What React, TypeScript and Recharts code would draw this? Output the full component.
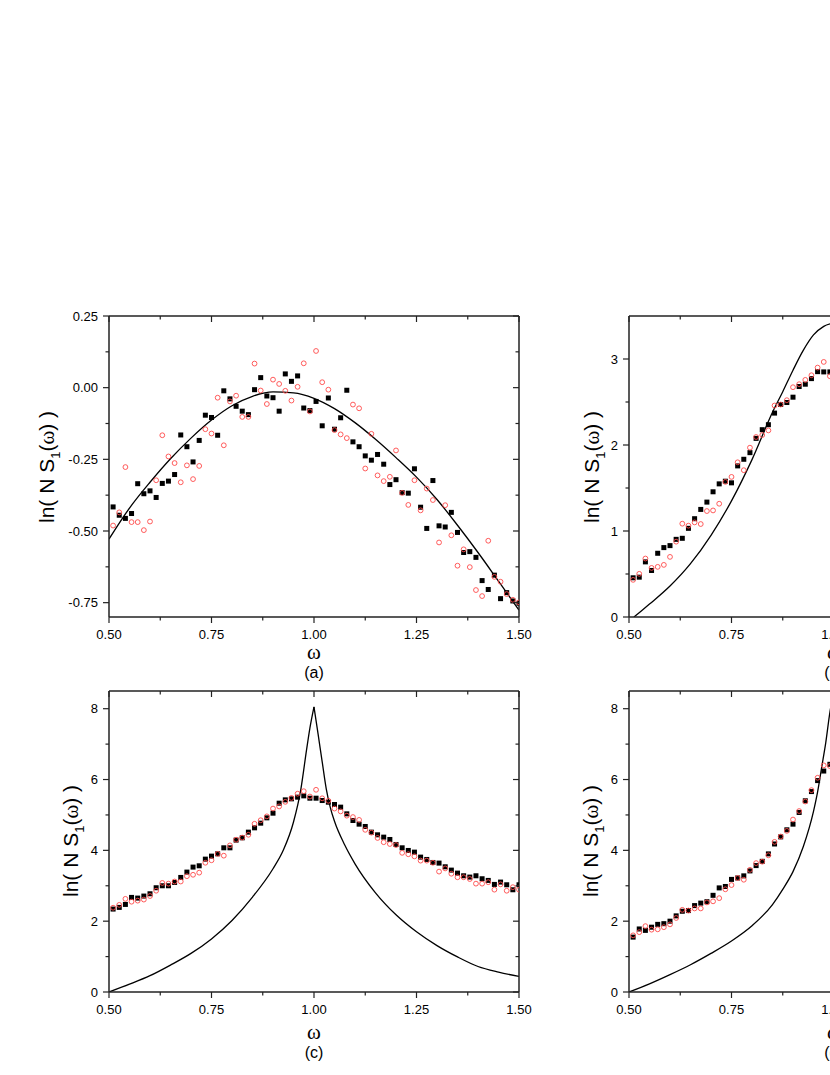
import React from 'react';
import { ComposedChart, XAxis, YAxis, Line, Scatter } from 'recharts';

// sample grid of the simulation points (ω)
const OMEGA = [
  0.51, 0.525, 0.54, 0.555, 0.57, 0.585, 0.6, 0.615, 0.63, 0.645,
  0.66, 0.675, 0.69, 0.705, 0.72, 0.735, 0.75, 0.765, 0.78, 0.795,
  0.81, 0.825, 0.84, 0.855, 0.87, 0.885, 0.9, 0.915, 0.93, 0.945,
  0.96, 0.975, 0.99, 1.005, 1.02, 1.035, 1.05, 1.065, 1.08, 1.095,
  1.11, 1.125, 1.14, 1.155, 1.17, 1.185, 1.2, 1.215, 1.23, 1.245,
  1.26, 1.275, 1.29, 1.305, 1.32, 1.335, 1.35, 1.365, 1.38, 1.395,
  1.41, 1.425, 1.44, 1.455, 1.47, 1.485, 1.5,
];

const X_TICKS = [0.5, 0.625, 0.75, 0.875, 1, 1.125, 1.25, 1.375, 1.5];
const X_MAJOR = [0.5, 0.75, 1, 1.25, 1.5];

// (a)
const SQ_A = [
  -0.416, -0.445, -0.456, -0.439, -0.335, -0.37, -0.36, -0.383, -0.334, -0.326,
  -0.303, -0.165, -0.206, -0.259, -0.184, -0.096, -0.104, -0.166, -0.011, -0.039,
  -0.065, -0.082, -0.094, -0.007, 0.035, -0.029, -0.035, -0.082, 0.048, 0.022,
  0.041, -0.071, -0.08, -0.048, -0.133, -0.036, -0.145, -0.105, -0.009, -0.189,
  -0.206, -0.238, -0.253, -0.233, -0.267, -0.338, -0.321, -0.366, -0.368, -0.283,
  -0.417, -0.491, -0.324, -0.482, -0.486, -0.435, -0.505, -0.575, -0.572, -0.592,
  -0.673, -0.704, -0.654, -0.736, -0.715, -0.744, -0.752,
];
const CI_A = [
  -0.481, -0.435, -0.277, -0.469, -0.469, -0.497, -0.467, -0.323, -0.166, -0.24,
  -0.263, -0.33, -0.271, -0.319, -0.273, -0.145, -0.16, -0.035, -0.201, -0.048,
  -0.028, -0.102, -0.102, 0.084, -0.01, -0.057, 0.028, 0.013, -0.011, -0.045,
  0.003, 0.085, -0.083, 0.128, 0.019, -0.007, -0.148, -0.163, -0.176, -0.059,
  -0.072, -0.282, -0.161, -0.306, -0.326, -0.311, -0.219, -0.367, -0.409, -0.323,
  -0.428, -0.352, -0.392, -0.54, -0.41, -0.515, -0.621, -0.564, -0.626, -0.706,
  -0.727, -0.534, -0.66, -0.677, -0.72, -0.74, -0.749,
];
const LINE_A_X = [0.5, 0.55, 0.6, 0.65, 0.7, 0.75, 0.8, 0.85, 0.9, 0.95, 1.0, 1.05, 1.1, 1.15, 1.2, 1.25, 1.3, 1.35, 1.4, 1.45, 1.5];
const LINE_A_Y = [-0.528, -0.42, -0.33, -0.248, -0.176, -0.113, -0.063, -0.03, -0.015, -0.018, -0.037, -0.073, -0.122, -0.18, -0.244, -0.312, -0.39, -0.48, -0.575, -0.675, -0.776];
const Y_TICKS_A = [-0.75, -0.625, -0.5, -0.375, -0.25, -0.125, 0, 0.125, 0.25];
const Y_MAJOR_A = [-0.75, -0.5, -0.25, 0, 0.25];

// (b)
const SQ_B = [
  0.456, 0.463, 0.641, 0.541, 0.741, 0.807, 0.83, 0.903, 0.915, 1.031,
  1.143, 1.251, 1.336, 1.456, 1.548, 1.579, 1.56, 1.757, 1.834, 1.911,
  2.077, 2.178, 2.236, 2.371, 2.471, 2.494, 2.556, 2.68, 2.707, 2.772,
  2.853, 2.85, 2.85,
];
const CI_B = [
  0.432, 0.502, 0.68, 0.571, 0.583, 0.606, 0.699, 0.876, 1.085, 1.062,
  1.1, 1.081, 1.232, 1.239, 1.317, 1.571, 1.629, 1.799, 1.707, 1.969,
  2.093, 2.116, 2.17, 2.459, 2.471, 2.521, 2.672, 2.707, 2.757, 2.811,
  2.9, 2.966, 2.8,
];
const LINE_B_X = [0.512, 0.53, 0.55, 0.6, 0.65, 0.7, 0.75, 0.8, 0.85, 0.875, 0.9, 0.925, 0.95, 0.975, 1.0];
const LINE_B_Y = [0, 0.07, 0.15, 0.36, 0.62, 0.95, 1.35, 1.83, 2.38, 2.62, 2.87, 3.1, 3.28, 3.38, 3.42];
const Y_TICKS_B = [0, 0.5, 1, 1.5, 2, 2.5, 3];
const Y_MAJOR_B = [0, 1, 2, 3];

// (c)
const SQ_C = [
  2.342, 2.389, 2.473, 2.671, 2.652, 2.709, 2.774, 2.944, 3.0, 3.0,
  3.094, 3.235, 3.386, 3.527, 3.564, 3.752, 3.837, 3.903, 4.072, 4.072,
  4.289, 4.354, 4.514, 4.636, 4.768, 4.918, 5.05, 5.332, 5.426, 5.455,
  5.502, 5.539, 5.473, 5.473, 5.407, 5.36, 5.295, 5.22, 5.031, 4.843,
  4.74, 4.674, 4.514, 4.439, 4.373, 4.307, 4.166, 4.072, 3.997, 3.95,
  3.809, 3.743, 3.658, 3.64, 3.536, 3.442, 3.357, 3.282, 3.245, 3.282,
  3.198, 3.151, 3.038, 3.104, 3.028, 2.887, 3.028,
];
const CI_C = [
  2.38, 2.46, 2.63, 2.55, 2.58, 2.61, 2.71, 2.86, 3.08, 3.06,
  3.12, 3.12, 3.27, 3.31, 3.37, 3.65, 3.72, 3.9, 3.85, 4.14,
  4.3, 4.36, 4.44, 4.75, 4.85, 4.96, 5.18, 5.24, 5.37, 5.48,
  5.6, 5.67, 5.52, 5.71, 5.47, 5.4, 5.18, 5.1, 4.98, 4.94,
  4.86, 4.58, 4.5, 4.35, 4.23, 4.18, 4.15, 3.93, 3.89, 3.83,
  3.71, 3.71, 3.65, 3.4, 3.49, 3.34, 3.24, 3.24, 3.19, 3.06,
  3.06, 3.1, 2.89, 3.04, 2.86, 2.96, 2.89,
];
const LINE_C_LX = [0.5, 0.55, 0.6, 0.65, 0.7, 0.75, 0.8, 0.85, 0.9, 0.925, 0.95, 0.968, 0.982, 0.99, 1.0];
const LINE_C_LY = [0, 0.22, 0.46, 0.76, 1.09, 1.5, 2.02, 2.68, 3.48, 4.0, 4.8, 5.73, 6.85, 7.45, 8.05];
const LINE_C_RX = [1.0, 1.01, 1.02, 1.03, 1.04, 1.05, 1.075, 1.1, 1.15, 1.2, 1.25, 1.3, 1.35, 1.4, 1.45, 1.5];
const LINE_C_RY = [8.05, 7.28, 6.5, 5.73, 5.2, 4.82, 4.15, 3.62, 2.8, 2.18, 1.7, 1.31, 0.99, 0.72, 0.56, 0.44];
const Y_TICKS_CD = [0, 1, 2, 3, 4, 5, 6, 7, 8];
const Y_MAJOR_CD = [0, 2, 4, 6, 8];

// (d)
const SQ_D = [
  1.55, 1.78, 1.74, 1.83, 1.91, 1.93, 2.0, 2.15, 2.28, 2.3,
  2.44, 2.51, 2.55, 2.73, 2.94, 2.98, 3.18, 3.22, 3.28, 3.42,
  3.57, 3.69, 3.9, 4.18, 4.38, 4.58, 4.74, 5.07, 5.4, 5.66,
  5.97, 6.24, 6.43,
];
const CI_D = [
  1.6, 1.69, 1.86, 1.76, 1.77, 1.83, 1.91, 2.09, 2.32, 2.3,
  2.36, 2.36, 2.53, 2.56, 2.65, 2.9, 3.02, 3.22, 3.17, 3.45,
  3.64, 3.68, 3.86, 4.24, 4.39, 4.55, 4.87, 5.11, 5.38, 5.7,
  6.05, 6.4, 6.38,
];
const LINE_D_X = [0.5, 0.55, 0.6, 0.65, 0.7, 0.75, 0.8, 0.85, 0.875, 0.9, 0.925, 0.95, 0.96, 0.97, 0.98, 0.99, 1.0];
const LINE_D_Y = [0, 0.23, 0.49, 0.77, 1.09, 1.44, 1.87, 2.47, 2.9, 3.4, 4.1, 5.1, 5.65, 6.35, 7.05, 7.9, 8.5];

const SANS = '"Liberation Sans", Arial, Helvetica, sans-serif';
const SERIF = '"Liberation Serif", "Times New Roman", serif';
const AXIS = '#222';

const pts = (xs: number[], ys: number[]) => ys.map((y, i) => ({ x: xs[i], y }));

const isMajor = (v: number, majors: number[]) => majors.some((m) => Math.abs(m - v) < 1e-9);

function makeTick(side: string, majors: number[], fmt?: (v: number) => string) {
  return (p: any) => {
    const { x, y, payload } = p;
    const v = payload.value;
    const major = isMajor(v, majors);
    const len = major ? 6 : 3.5;
    let line;
    let label = null;
    if (side === 'left') {
      line = <line x1={x - len} y1={y} x2={x} y2={y} stroke={AXIS} strokeWidth={1.2} />;
      if (major && fmt)
        label = (
          <text x={x - 11} y={y} textAnchor="end" dominantBaseline="central" fontSize={13} fontFamily={SANS} fill="#000">
            {fmt(v)}
          </text>
        );
    } else if (side === 'bottom') {
      line = <line x1={x} y1={y} x2={x} y2={y + len} stroke={AXIS} strokeWidth={1.2} />;
      if (major && fmt)
        label = (
          <text x={x} y={y + 17} textAnchor="middle" dominantBaseline="central" fontSize={13} fontFamily={SANS} fill="#000">
            {fmt(v)}
          </text>
        );
    } else if (side === 'top') {
      line = <line x1={x} y1={y} x2={x} y2={y + len} stroke={AXIS} strokeWidth={1.2} />;
    } else {
      line = <line x1={x - len} y1={y} x2={x} y2={y} stroke={AXIS} strokeWidth={1.2} />;
    }
    return (
      <g>
        {line}
        {label}
      </g>
    );
  };
}

const squareShape = (p: any) => <rect x={p.cx - 2.5} y={p.cy - 2.5} width={5} height={5} fill="#000" />;
const circleShape = (p: any) => (
  <circle cx={p.cx} cy={p.cy} r={2.4} fill="none" stroke="#ff4a4a" strokeWidth={0.9} />
);

type PanelProps = {
  left: number;
  top: number;
  yDomain: number[];
  yTicks: number[];
  yMajor: number[];
  yFmt: (v: number) => string;
  lines: { x: number; y: number }[][];
  squares: { x: number; y: number }[];
  circles: { x: number; y: number }[];
};

function Panel({ left, top, yDomain, yTicks, yMajor, yFmt, lines, squares, circles }: PanelProps) {
  const axisLine = { stroke: AXIS, strokeWidth: 1.5 };
  return (
    <div style={{ position: 'absolute', left: left - 100, top: top - 20 }}>
      <ComposedChart width={530} height={381} margin={{ top: 19, right: 19, bottom: 30, left: 40 }}>
        <XAxis
          xAxisId="b"
          type="number"
          dataKey="x"
          domain={[0.5, 1.5]}
          allowDataOverflow
          ticks={X_TICKS}
          interval={0}
          height={30}
          tickSize={0}
          tickMargin={0}
          tickLine={false}
          axisLine={axisLine}
          tick={makeTick('bottom', X_MAJOR, (v) => v.toFixed(2))}
        />
        <XAxis
          xAxisId="t"
          orientation="top"
          type="number"
          dataKey="x"
          domain={[0.5, 1.5]}
          allowDataOverflow
          ticks={X_TICKS}
          interval={0}
          height={1}
          tickSize={0}
          tickMargin={0}
          tickLine={false}
          axisLine={axisLine}
          tick={makeTick('top', X_MAJOR)}
        />
        <YAxis
          yAxisId="l"
          type="number"
          dataKey="y"
          domain={yDomain}
          allowDataOverflow
          ticks={yTicks}
          interval={0}
          width={60}
          tickSize={0}
          tickMargin={0}
          tickLine={false}
          axisLine={axisLine}
          tick={makeTick('left', yMajor, yFmt)}
        />
        <YAxis
          yAxisId="r"
          orientation="right"
          type="number"
          dataKey="y"
          domain={yDomain}
          allowDataOverflow
          ticks={yTicks}
          interval={0}
          width={1}
          tickSize={0}
          tickMargin={0}
          tickLine={false}
          axisLine={axisLine}
          tick={makeTick('right', yMajor)}
        />
        {lines.map((d, i) => (
          <Line
            key={i}
            xAxisId="b"
            yAxisId="l"
            data={d}
            dataKey="y"
            type="monotone"
            stroke="#000"
            strokeWidth={1.3}
            dot={false}
            activeDot={false}
            isAnimationActive={false}
          />
        ))}
        <Scatter xAxisId="b" yAxisId="l" data={squares} dataKey="y" shape={squareShape} isAnimationActive={false} />
        <Scatter xAxisId="b" yAxisId="l" data={circles} dataKey="y" shape={circleShape} isAnimationActive={false} />
      </ComposedChart>
    </div>
  );
}

function YLabel({ cx, cy }: { cx: number; cy: number }) {
  return (
    <div
      style={{
        position: 'absolute',
        left: cx,
        top: cy,
        transform: 'translate(-50%, -50%) rotate(-90deg)',
        fontFamily: SANS,
        fontSize: 21,
        lineHeight: 1,
        whiteSpace: 'nowrap',
        color: '#000',
      }}
    >
      ln( N S<sub style={{ fontSize: 13 }}>1</sub>(<span style={{ fontFamily: SERIF }}>ω</span>) )
    </div>
  );
}

function XLabel({ cx, cy, caption }: { cx: number; cy: number; caption: string }) {
  return (
    <>
      <div
        style={{
          position: 'absolute',
          left: cx,
          top: cy,
          transform: 'translate(-50%, -50%)',
          fontFamily: SERIF,
          fontSize: 21,
          lineHeight: 1,
          color: '#000',
        }}
      >
        ω
      </div>
      <div
        style={{
          position: 'absolute',
          left: cx,
          top: cy + 21,
          transform: 'translate(-50%, -50%)',
          fontFamily: SANS,
          fontSize: 16,
          lineHeight: 1,
          color: '#000',
        }}
      >
        {caption}
      </div>
    </>
  );
}

const fmtA = (v: number) => v.toFixed(2);
const fmtInt = (v: number) => String(v);

export default function App() {
  return (
    <div style={{ position: 'fixed', left: 0, top: 0, width: 830, height: 1075, overflow: 'hidden', background: '#fff' }}>
      <Panel
        left={109}
        top={316}
        yDomain={[-0.8, 0.25]}
        yTicks={Y_TICKS_A}
        yMajor={Y_MAJOR_A}
        yFmt={fmtA}
        lines={[pts(LINE_A_X, LINE_A_Y)]}
        squares={pts(OMEGA, SQ_A)}
        circles={pts(OMEGA, CI_A)}
      />
      <Panel
        left={629}
        top={316}
        yDomain={[0, 3.5]}
        yTicks={Y_TICKS_B}
        yMajor={Y_MAJOR_B}
        yFmt={fmtInt}
        lines={[pts(LINE_B_X, LINE_B_Y)]}
        squares={pts(OMEGA, SQ_B)}
        circles={pts(OMEGA, CI_B)}
      />
      <Panel
        left={109}
        top={691}
        yDomain={[0, 8.5]}
        yTicks={Y_TICKS_CD}
        yMajor={Y_MAJOR_CD}
        yFmt={fmtInt}
        lines={[pts(LINE_C_LX, LINE_C_LY), pts(LINE_C_RX, LINE_C_RY)]}
        squares={pts(OMEGA, SQ_C)}
        circles={pts(OMEGA, CI_C)}
      />
      <Panel
        left={629}
        top={691}
        yDomain={[0, 8.5]}
        yTicks={Y_TICKS_CD}
        yMajor={Y_MAJOR_CD}
        yFmt={fmtInt}
        lines={[pts(LINE_D_X, LINE_D_Y)]}
        squares={pts(OMEGA, SQ_D)}
        circles={pts(OMEGA, CI_D)}
      />
      <YLabel cx={49} cy={466.5} />
      <YLabel cx={594} cy={466.5} />
      <YLabel cx={73} cy={841} />
      <YLabel cx={593} cy={841} />
      <XLabel cx={314} cy={652} caption="(a)" />
      <XLabel cx={834} cy={652} caption="(b)" />
      <XLabel cx={314} cy={1032} caption="(c)" />
      <XLabel cx={834} cy={1032} caption="(d)" />
    </div>
  );
}
